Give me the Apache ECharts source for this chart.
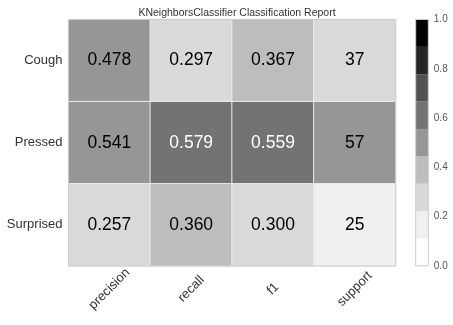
<!DOCTYPE html>
<html>
<head>
<meta charset="utf-8">
<script src="https://cdn.jsdelivr.net/npm/echarts@6/dist/echarts.min.js"></script>
<style>
html,body{margin:0;padding:0;background:#fff;}
#chart{width:453px;height:325px;}
</style>
</head>
<body>
<div id="chart"></div>
<script>
// ---- data ----
const metrics = ['precision', 'recall', 'f1', 'support'];
const classes = ['Cough', 'Pressed', 'Surprised'];
const precision = [0.478, 0.541, 0.257];
const recall = [0.297, 0.579, 0.360];
const f1 = [0.367, 0.559, 0.300];
const support = [37, 57, 25];
const colorbarTicks = [0.0, 0.2, 0.4, 0.6, 0.8, 1.0];
const binColors = ['#ffffff', '#f0f0f0', '#d9d9d9', '#bdbdbd', '#969696', '#737373', '#525252', '#252525', '#000000'];
const title = 'KNeighborsClassifier Classification Report';

// ---- build ----
const FONT = "'Liberation Sans', Arial, sans-serif";
const nBins = binColors.length;
const totalSupport = support.reduce((a, b) => a + b, 0);
const data = [];
classes.forEach((c, r) => {
  const vals = [precision[r], recall[r], f1[r], support[r] / totalSupport];
  const texts = [precision[r].toFixed(3), recall[r].toFixed(3), f1[r].toFixed(3), String(support[r])];
  vals.forEach((v, col) => {
    data.push({ value: [col, r, v, texts[col]], label: { color: v >= 5 / nBins ? '#ffffff' : '#000000' } });
  });
});
const pieces = binColors.map((c, i) => (i === nBins - 1)
  ? { gte: i / nBins, lte: 1, color: c }
  : { gte: i / nBins, lt: (i + 1) / nBins, color: c });

const cbSeries = binColors.map((c, i) => ({
  type: 'bar', xAxisIndex: 1, yAxisIndex: 1, stack: 'cb', silent: true,
  barWidth: '100%', data: [1 / nBins], itemStyle: { color: c }, animation: false
}));

const chart = echarts.init(document.getElementById('chart'), null, { renderer: 'canvas' });
chart.setOption({
  animation: false,
  backgroundColor: '#ffffff',
  title: {
    text: title, left: 232, top: 3, textAlign: 'center',
    textStyle: { fontSize: 10.5, fontWeight: 'normal', color: '#333', fontFamily: FONT }
  },
  grid: [
    { left: 68.5, top: 19.5, width: 327.2, height: 246.5, show: true, z: 5,
      outerBoundsMode: 'none', containLabel: false,
      backgroundColor: 'rgba(0,0,0,0)', borderColor: '#cccccc', borderWidth: 1 },
    { left: 415.7, top: 19.5, width: 12.6, height: 246.3, show: true, z: 5,
      outerBoundsMode: 'none', containLabel: false,
      backgroundColor: 'rgba(0,0,0,0)', borderColor: '#cccccc', borderWidth: 1 }
  ],
  xAxis: [
    { type: 'category', gridIndex: 0, data: metrics, z: 6,
      axisLine: { show: false }, axisTick: { show: false }, splitLine: { show: false },
      axisLabel: { interval: 0, rotate: 45, align: 'center', verticalAlign: 'middle',
        margin: 23, fontSize: 13, fontFamily: FONT, color: '#333' } },
    { type: 'category', gridIndex: 1, data: [''], show: false }
  ],
  yAxis: [
    { type: 'category', gridIndex: 0, data: classes, inverse: true,
      axisLine: { show: false }, axisTick: { show: false }, splitLine: { show: false },
      axisLabel: { margin: 6, fontSize: 13, fontFamily: FONT, color: '#333' } },
    { type: 'value', gridIndex: 1, min: 0, max: 1, interval: 0.2, position: 'right',
      axisLine: { show: false }, axisTick: { show: false }, splitLine: { show: false },
      axisLabel: { margin: 5.5, fontSize: 10, fontFamily: FONT, color: '#555',
        formatter: v => { const t = colorbarTicks.find(x => Math.abs(x - v) < 1e-9); return (t === undefined ? v : t).toFixed(1); } } }
  ],
  visualMap: {
    type: 'piecewise', show: false, dimension: 2, seriesIndex: 0, pieces: pieces
  },
  series: [
    { type: 'heatmap', xAxisIndex: 0, yAxisIndex: 0, data: data,
      encode: { x: 0, y: 1 },
      itemStyle: { borderColor: '#ebebeb', borderWidth: 1 },
      emphasis: { disabled: true },
      label: { show: true, fontSize: 17.5, fontFamily: FONT, formatter: p => p.value[3] } }
  ].concat(cbSeries)
});
</script>
</body>
</html>
